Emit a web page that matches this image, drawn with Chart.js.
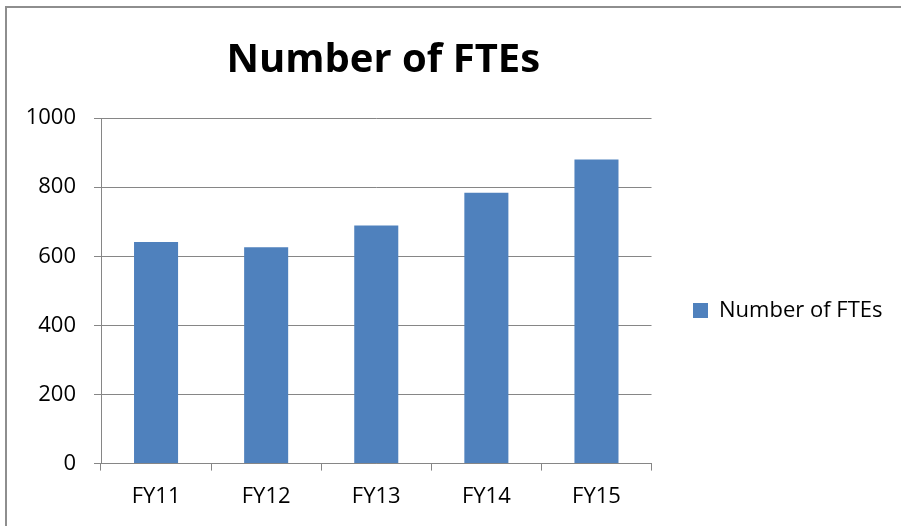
<!DOCTYPE html>
<html>
<head>
<meta charset="utf-8">
<script src="https://cdn.jsdelivr.net/npm/chart.js@4"></script>
<style>
    html, body { margin: 0; background: #fff; overflow: hidden; }
    .edge-top { position: absolute; left: 5px; top: 6px; width: 896px; height: 2px; background: #8e8e8e; }
    .edge-left { position: absolute; left: 5px; top: 6px; width: 2px; height: 520px; background: #8e8e8e; }
    .chart-box { position: absolute; left: 0; top: 0; width: 901px; height: 526px; }
</style>
</head>
<body>
<div class="edge-top"></div>
<div class="edge-left"></div>
<div class="chart-box">
    <canvas id="fte_graph" width="901" height="526"></canvas>
</div>
<script>
let categories = ["FY11", "FY12", "FY13", "FY14", "FY15"]
let fteValues = [641, 626, 689, 784, 880]
let seriesName = "Number of FTEs"
let yTicks = [0, 200, 400, 600, 800, 1000]

let gridGray = '#868686'
let font = "'Open Sans', 'DejaVu Sans', sans-serif"

//legend sits beside the plot, Excel style; title a bit right of plot center
let legendSpot = {
    id: 'legendSpot',
    afterLayout: chart => {
        let lg = chart.legend
        let w = lg.width
        lg.left = 683
        lg.right = 683 + w
        lg.top = 290
        lg.bottom = 331
        let tb = chart.titleBlock
        if (tb) {
            tb.left += 7
            tb.right += 7
        }
    }
}

new Chart("fte_graph", {
    type: 'bar',
    data: {
        labels: categories,
        datasets: [{
            label: seriesName,
            data: fteValues,
            backgroundColor: '#4f81bd',
            borderWidth: 0,
            categoryPercentage: 1,
            barPercentage: 0.4
        }]
    },
    options: {
        responsive: false,
        maintainAspectRatio: false,
        animation: false,
        devicePixelRatio: 1,
        layout: {
            padding: { left: 0, right: 40, top: 0, bottom: 3 }
        },
        plugins: {
            title: {
                display: true,
                text: "Number of FTEs",
                color: '#000',
                fullSize: false,
                font: { family: font, size: 40, weight: 'bold' },
                padding: { top: 37, bottom: 33 }
            },
            legend: {
                position: 'right',
                labels: {
                    color: '#000',
                    boxWidth: 15,
                    boxHeight: 15,
                    padding: 10,
                    font: { family: font, size: 22 }
                }
            },
            tooltip: { enabled: false }
        },
        scales: {
            x: {
                grid: {
                    drawOnChartArea: false,
                    drawTicks: true,
                    tickLength: 7,
                    color: gridGray,
                    offset: true
                },
                border: { color: gridGray },
                ticks: {
                    color: '#000',
                    padding: 13,
                    font: { family: font, size: 22 }
                }
            },
            y: {
                min: 0,
                max: 1000,
                afterFit: axis => { axis.width = 101 },
                afterBuildTicks: axis => { axis.ticks = yTicks.map(v => ({ value: v })) },
                grid: {
                    color: gridGray,
                    tickLength: 7,
                    tickColor: gridGray
                },
                border: { color: gridGray },
                ticks: {
                    color: '#000',
                    padding: 18,
                    font: { family: font, size: 22 },
                    callback: v => String(v)
                }
            }
        }
    },
    plugins: [legendSpot]
})
</script>
</body>
</html>
